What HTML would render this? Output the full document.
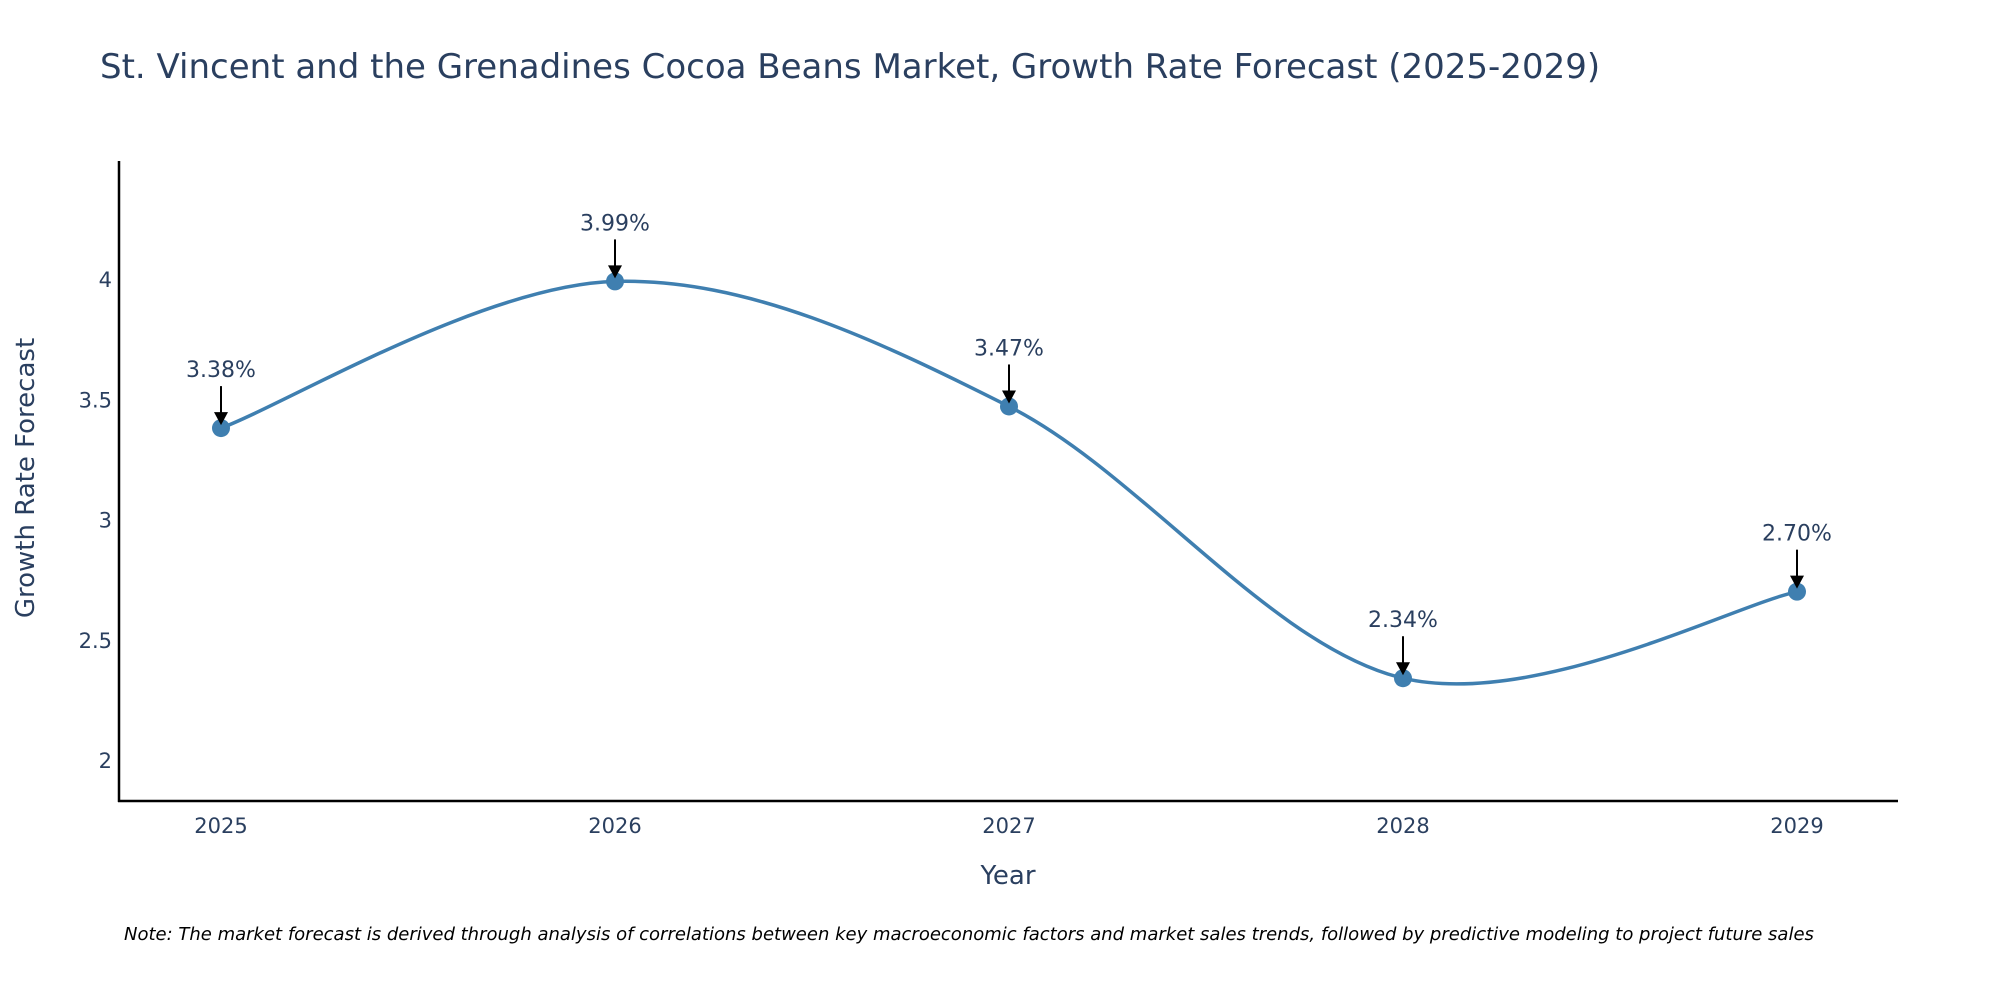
<!DOCTYPE html>
<html><head><meta charset="utf-8"><style>
body{margin:0;background:#fff;}
svg{display:block;font-family:"DejaVu Sans","Liberation Sans",sans-serif;}
</style></head><body>
<svg id="chart" width="2000" height="1000">
<text x="100" y="78" font-size="34" fill="#2a3f5f">St. Vincent and the Grenadines Cocoa Beans Market, Growth Rate Forecast (2025-2029)</text>
<g id="yticks"></g>
<g id="xticks"></g>
<line x1="119" y1="161" x2="119" y2="802" stroke="#000" stroke-width="2.5"/>
<line x1="118" y1="801" x2="1898" y2="801" stroke="#000" stroke-width="2.5"/>
<path id="line" fill="none" stroke="#3f7fb0" stroke-width="3.5"/>
<g id="points"></g>
<g id="annots"></g>
<text x="1008" y="884" font-size="26" fill="#2a3f5f" text-anchor="middle">Year</text>
<text transform="translate(34,478) rotate(-90)" font-size="26" fill="#2a3f5f" text-anchor="middle">Growth Rate Forecast</text>
<text x="124" y="940" font-size="18" font-style="italic" fill="#000">Note: The market forecast is derived through analysis of correlations between key macroeconomic factors and market sales trends, followed by predictive modeling to project future sales</text>
</svg>
<script>
const years = [2025, 2026, 2027, 2028, 2029];
const values = [3.38, 3.99, 3.47, 2.34, 2.70];
const labels = ["3.38%", "3.99%", "3.47%", "2.34%", "2.70%"];
const yTicks = [2, 2.5, 3, 3.5, 4];
const yTickLabels = ["2", "2.5", "3", "3.5", "4"];

const NS = "http://www.w3.org/2000/svg";
function xs(i){ return 221 + (1797-221) * (i/(years.length-1)); }
function ys(v){ return 760 - (v-2) * 240.5; }
function mk(tag, attrs, parent, txt){
  const e = document.createElementNS(NS, tag);
  for (const k in attrs) e.setAttribute(k, attrs[k]);
  if (txt !== undefined) e.textContent = txt;
  parent.appendChild(e); return e;
}
const yt = document.getElementById('yticks');
yTicks.forEach((v,i)=>{
  const t = mk('text',{x:112,y:ys(v)+8,'font-size':21,fill:'#2a3f5f','text-anchor':'end'},yt,yTickLabels[i]);
  
  
});
const xt = document.getElementById('xticks');
years.forEach((y,i)=>{
  const t = mk('text',{x:xs(i),y:833,'font-size':21,fill:'#2a3f5f','text-anchor':'middle'},xt,String(y));
  
  
});
const P = values.map((v,i)=>[xs(i), ys(v)]);
let d = `M${P[0][0]},${P[0][1]}`;
const s = 1/6;
for (let i=0;i<P.length-1;i++){
  const p0 = P[Math.max(i-1,0)], p1=P[i], p2=P[i+1], p3=P[Math.min(i+2,P.length-1)];
  const c1=[p1[0]+(p2[0]-p0[0])*s, p1[1]+(p2[1]-p0[1])*s];
  const c2=[p2[0]-(p3[0]-p1[0])*s, p2[1]-(p3[1]-p1[1])*s];
  d += ` C${c1[0]},${c1[1]} ${c2[0]},${c2[1]} ${p2[0]},${p2[1]}`;
}
document.getElementById('line').setAttribute('d', d);
const pts = document.getElementById('points');
const an = document.getElementById('annots');
P.forEach((p,i)=>{
  const c = mk('circle',{cx:p[0],cy:p[1],r:9,fill:'#3f7fb0'},pts);
  
  
  const l = mk('line',{x1:p[0],y1:p[1]-42,x2:p[0],y2:p[1]-14,stroke:'#000','stroke-width':2},an);
  
  
  const h = mk('polygon',{points:`${p[0]-7},${p[1]-16} ${p[0]+7},${p[1]-16} ${p[0]},${p[1]-3}`,fill:'#000'},an);
  
  
  const t = mk('text',{x:p[0],y:p[1]-51,'font-size':22,fill:'#2a3f5f','text-anchor':'middle'},an,labels[i]);
  
  
});
</script>
</body></html>
